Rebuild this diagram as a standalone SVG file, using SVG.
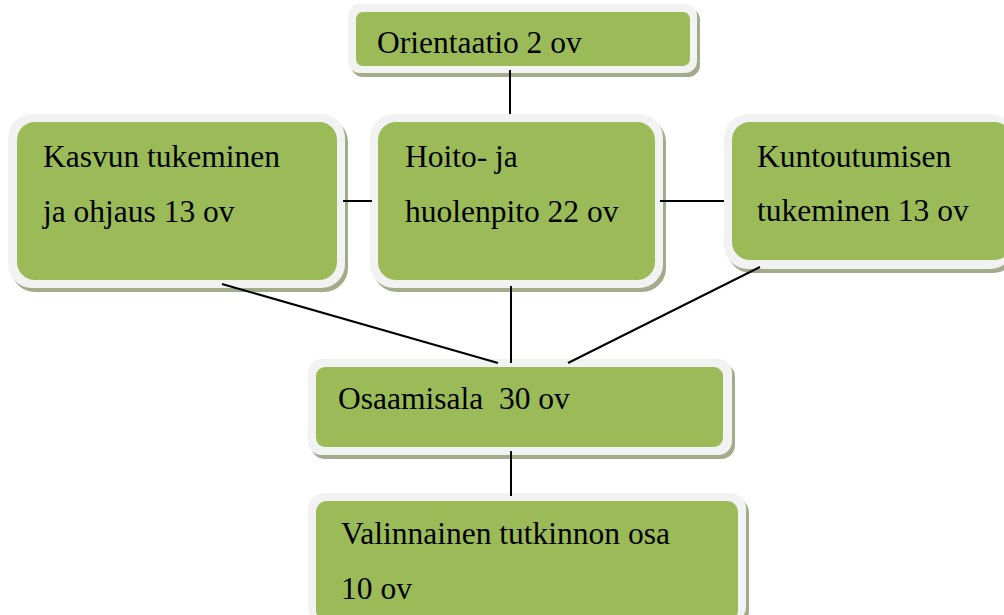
<svg xmlns="http://www.w3.org/2000/svg" width="1004" height="615" viewBox="0 0 1004 615">
  <style>
    .shadow { fill: #a3ac8a; }
    .frame { fill: #f2f2f2; }
    .box { fill: #9bbb59; }
    text { font-family: 'Liberation Serif', 'DejaVu Serif', serif; font-size: 31.5px; fill: #000000; }
    .link { stroke: #000000; stroke-width: 2; fill: none; }
  </style>
  <rect width="1004" height="615" fill="#ffffff"/>

  <g id="orientaatio">
    <rect class="shadow" x="351" y="8" width="349" height="69" rx="12"/>
    <rect class="frame" x="348" y="4" width="349" height="69" rx="12"/>
    <rect class="box" x="356" y="12" width="334" height="54" rx="7"/>
    <text font-family="Liberation Serif, serif" x="377" y="53">Orientaatio 2 ov</text>
  </g>

  <g id="kasvun">
    <rect class="shadow" x="11" y="118" width="337" height="174" rx="24"/>
    <rect class="frame" x="8" y="114" width="337" height="174" rx="24"/>
    <rect class="box" x="17" y="122" width="320" height="158" rx="18"/>
    <text font-family="Liberation Serif, serif" x="43" y="167">Kasvun tukeminen</text>
    <text font-family="Liberation Serif, serif" x="43" y="222">ja ohjaus 13 ov</text>
  </g>

  <g id="hoito">
    <rect class="shadow" x="373" y="118" width="293" height="174" rx="24"/>
    <rect class="frame" x="370" y="114" width="293" height="174" rx="24"/>
    <rect class="box" x="378" y="122" width="277" height="158" rx="18"/>
    <text font-family="Liberation Serif, serif" x="405" y="167">Hoito- ja</text>
    <text font-family="Liberation Serif, serif" x="405" y="222">huolenpito 22 ov</text>
  </g>

  <g id="kuntoutumisen">
    <rect class="shadow" x="727" y="118" width="290" height="155" rx="24"/>
    <rect class="frame" x="724" y="114" width="290" height="155" rx="24"/>
    <rect class="box" x="732" y="122" width="280" height="138" rx="18"/>
    <text font-family="Liberation Serif, serif" x="757" y="167">Kuntoutumisen</text>
    <text font-family="Liberation Serif, serif" x="757" y="221">tukeminen 13 ov</text>
  </g>

  <g id="osaamisala">
    <rect class="shadow" x="311" y="363" width="424" height="96" rx="14"/>
    <rect class="frame" x="308" y="359" width="424" height="96" rx="14"/>
    <rect class="box" x="316" y="367" width="407" height="80" rx="9"/>
    <text font-family="Liberation Serif, serif" x="338" y="409" xml:space="preserve">Osaamisala  30 ov</text>
  </g>

  <g id="valinnainen">
    <rect class="shadow" x="311" y="497" width="438" height="130" rx="16"/>
    <rect class="frame" x="308" y="493" width="438" height="130" rx="16"/>
    <rect class="box" x="316" y="501" width="422" height="120" rx="11"/>
    <text font-family="Liberation Serif, serif" x="341" y="544">Valinnainen tutkinnon osa</text>
    <text font-family="Liberation Serif, serif" x="341" y="599">10 ov</text>
  </g>

  <g id="connectors">
    <line class="link" x1="510" y1="70" x2="510" y2="114"/>
    <line class="link" x1="343" y1="201" x2="372" y2="201"/>
    <line class="link" x1="660" y1="201" x2="724" y2="201"/>
    <line class="link" x1="222" y1="284" x2="498" y2="363"/>
    <line class="link" x1="511" y1="286" x2="511" y2="363"/>
    <line class="link" x1="760" y1="267" x2="568" y2="363"/>
    <line class="link" x1="511" y1="451" x2="511" y2="496"/>
  </g>
</svg>
